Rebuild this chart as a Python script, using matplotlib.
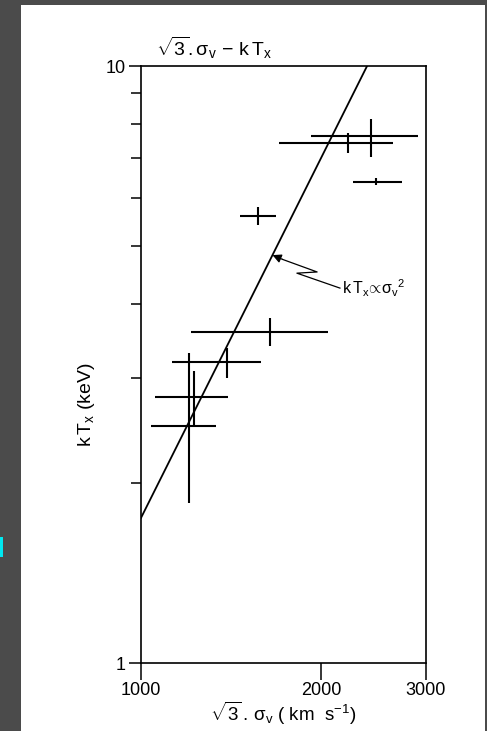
import numpy as np
import matplotlib
matplotlib.use('Agg')
import matplotlib.pyplot as plt
from matplotlib.patches import Rectangle
from matplotlib.ticker import NullLocator, FixedLocator, NullFormatter

plt.rcParams['font.family'] = ['Liberation Sans', 'DejaVu Sans']
plt.rcParams['mathtext.fontset'] = 'custom'
plt.rcParams['mathtext.rm'] = 'Liberation Sans'
plt.rcParams['mathtext.it'] = 'Liberation Sans'
plt.rcParams['mathtext.bf'] = 'Liberation Sans:bold'

# cluster velocity dispersion (sqrt(3) sigma_v, km/s) and X-ray temperature (keV)
sigma = np.array([2430, 2220, 2475, 1570, 1645, 1395, 1227, 1203])
sigma_lo = np.array([1925, 1700, 2265, 1465, 1212, 1127, 1055, 1039])
sigma_hi = np.array([2910, 2640, 2735, 1683, 2056, 1588, 1398, 1335])
kT = np.array([7.63, 7.43, 6.39, 5.61, 3.585, 3.19, 2.79, 2.495])
kT_lo = np.array([7.04, 7.15, 6.32, 5.42, 3.40, 3.00, 2.505, 1.854])
kT_hi = np.array([8.15, 7.72, 6.49, 5.80, 3.785, 3.37, 3.084, 3.307])

# kT = norm * (sigma/1000)^2
fit_norm = 1.75
fit_sigma = np.array([1000, 2390])

x_ticks = [1000, 2000, 3000]
y_ticks = [1, 10]
y_minor = [2, 3, 4, 5, 6, 7, 8, 9]

fig = plt.figure(figsize=(4.87, 7.31), dpi=100, facecolor='#4b4b4b')
fig.patches.append(Rectangle((21 / 487, 0), 464 / 487, 726 / 731,
                             transform=fig.transFigure, facecolor='white',
                             edgecolor='none', zorder=-5))
fig.patches.append(Rectangle((0, 1 - 557 / 731), 3 / 487, 20 / 731,
                             transform=fig.transFigure, facecolor='#00e8f0',
                             edgecolor='none', zorder=-5))

ax = fig.add_axes([141 / 487, 68 / 731, 285 / 487, 597 / 731])
ax.set_zorder(2)
ax.set_facecolor('none')
ax.set_xscale('log')
ax.set_yscale('log')
ax.set_xlim(1000, 3000)
ax.set_ylim(1, 10)

ax.errorbar(sigma, kT,
            xerr=[sigma - sigma_lo, sigma_hi - sigma],
            yerr=[kT - kT_lo, kT_hi - kT],
            fmt='none', ecolor='black', elinewidth=1.5, capsize=0)

ax.plot(fit_sigma, fit_norm * (fit_sigma / 1000.0) ** 2, color='black', lw=1.3)

# label with zig-zag pointer onto the relation
s_tip = 1660
ax.plot([0.698, 0.547, 0.618, 0.497], [0.628, 0.653, 0.655, 0.676],
        transform=ax.transAxes, color='black', lw=0.9)
ax.annotate('', xy=(s_tip, fit_norm * (s_tip / 1000.0) ** 2),
            xytext=(0.497, 0.676), textcoords='axes fraction',
            arrowprops=dict(arrowstyle='-|>', color='black', lw=0.9,
                            mutation_scale=13, shrinkA=0, shrinkB=0))
ax.text(0.706, 0.627, r'$\mathrm{k\,T_x\!\propto\!\sigma_v}^{\mathrm{2}}$',
        transform=ax.transAxes, fontsize=11.5, ha='left', va='center')

ax.xaxis.set_major_locator(FixedLocator(x_ticks))
ax.xaxis.set_minor_locator(NullLocator())
ax.set_xticklabels([str(v) for v in x_ticks])
ax.yaxis.set_major_locator(FixedLocator(y_ticks))
ax.yaxis.set_minor_locator(FixedLocator(y_minor))
ax.yaxis.set_minor_formatter(NullFormatter())
ax.set_yticklabels([str(v) for v in y_ticks])

ax.tick_params(axis='both', which='major', direction='out', length=9,
               width=1.1, labelsize=13, top=False, right=False)
ax.tick_params(axis='x', which='major', length=12, pad=2)
ax.tick_params(axis='y', which='major', pad=2)
ax.tick_params(axis='y', which='minor', direction='out', length=7,
               width=1.1, right=False)
for sp in ax.spines.values():
    sp.set_linewidth(1.2)

ax.set_xlabel(r'$\mathrm{\sqrt{3}\,.\,\sigma_v}$ ( km  s$^{-1}$)', fontsize=13.5,
              labelpad=0)
ax.set_ylabel(r'$\mathrm{k\,T_x}$ (keV)', fontsize=14)
ax.yaxis.set_label_coords(-0.154, 0.432)
fig.text(214 / 487, 1 - 48 / 731, r'$\mathrm{\sqrt{3}.\sigma_v\,-\,k\,T_x}$',
         fontsize=14, ha='center', va='center')

fig.savefig('out.png', dpi=100, facecolor=fig.get_facecolor())
